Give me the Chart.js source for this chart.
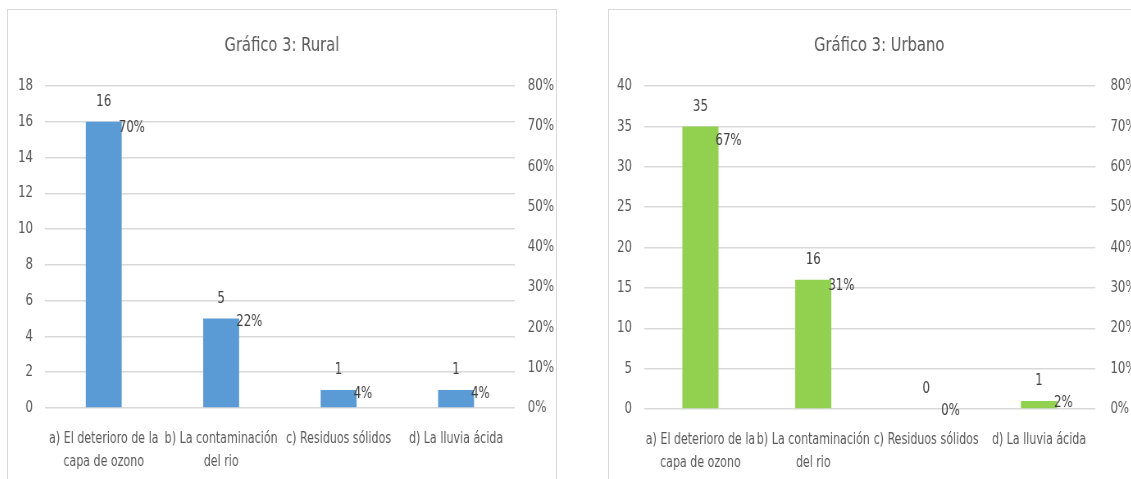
<!DOCTYPE html>
<html>
<head>
<meta charset="utf-8">
<script src="https://cdn.jsdelivr.net/npm/chart.js@4.4.1/dist/chart.umd.min.js"></script>
<style>
    html, body { margin: 0; padding: 0; background: #fff; overflow: hidden; width: 1131px; height: 479px; }
    .frame { position: absolute; top: 9px; border: 1px solid #d9d9d9; height: 480px; background: #fff; overflow: hidden; }
    #ruralFrame { left: 7px; width: 548px; }
    #urbanFrame { left: 608px; width: 560px; }
    canvas { position: absolute; left: 0; top: 0; transform-origin: 0 0; }
</style>
</head>
<body>
<div class="frame" id="ruralFrame"><canvas id="rural"></canvas></div>
<div class="frame" id="urbanFrame"><canvas id="urban"></canvas></div>
<script>
const categories = [
    ['a) El deterioro de la', 'capa de ozono'],
    ['b) La contaminación', 'del rio'],
    'c) Residuos sólidos',
    'd) La lluvia ácida'
]
const ruralCounts = [16, 5, 1, 1]
const ruralPercents = [70, 22, 4, 4]
const urbanCounts = [35, 16, 0, 1]
const urbanPercents = [67, 31, 0, 2]
const ruralCountTicks = { max: 18, step: 2 }
const urbanCountTicks = { max: 40, step: 5 }
const percentTicks = { max: 80, step: 10 }

const FONT = '"Liberation Sans Narrow", "DejaVu Sans Condensed", sans-serif'
const TEXT = '#595959'
const GRID = '#d9d9d9'
// the canvas is drawn wider and squeezed back with css, which gives the narrow lettering
const SQUEEZE = 0.82

// counts above each bar, percentages to the right of the hidden points
const valueLabels = {
    id: 'valueLabels',
    afterDatasetsDraw(chart) {
        const ctx = chart.ctx
        ctx.save()
        ctx.font = '16px ' + FONT
        ctx.fillStyle = '#404040'
        chart.data.datasets.forEach((ds, i) => {
            const meta = chart.getDatasetMeta(i)
            meta.data.forEach((el, j) => {
                ctx.textBaseline = 'middle'
                if (ds.type === 'line') {
                    ctx.textAlign = 'left'
                    ctx.fillText(ds.data[j] + '%', el.x + 15 / SQUEEZE, el.y + 2)
                } else {
                    ctx.textAlign = 'center'
                    ctx.fillText(String(ds.data[j]), el.x, el.y - 20)
                }
            })
        })
        ctx.restore()
    }
}

function makeChart(id, title, counts, percents, color, countTicks, box) {
    const canvas = document.getElementById(id)
    const w = Math.round(box.width / SQUEEZE)
    canvas.width = w
    canvas.height = box.height
    canvas.style.width = w + 'px'
    canvas.style.height = box.height + 'px'
    canvas.style.transform = 'scaleX(' + SQUEEZE + ')'
    return new Chart(canvas, {
        data: {
            labels: categories,
            datasets: [{
                type: 'line',
                data: percents,
                yAxisID: 'y1',
                showLine: false,
                pointRadius: 0,
                pointHoverRadius: 0
            }, {
                type: 'bar',
                data: counts,
                yAxisID: 'y',
                backgroundColor: color,
                categoryPercentage: 1,
                barPercentage: box.bar
            }]
        },
        options: {
            responsive: false,
            animation: false,
            events: [],
            layout: { padding: 0 },
            plugins: {
                legend: { display: false },
                tooltip: { enabled: false },
                title: {
                    display: true,
                    text: title,
                    color: TEXT,
                    font: { family: FONT, size: 20, weight: 'normal', lineHeight: 1.2 },
                    padding: { top: 24, bottom: 28 }
                }
            },
            scales: {
                x: {
                    grid: { display: false },
                    border: { display: false },
                    ticks: {
                        color: TEXT,
                        font: { family: FONT, size: 15, lineHeight: 1.55 },
                        padding: 11,
                        maxRotation: 0,
                        autoSkip: false
                    },
                    afterFit(s) { s.height = box.bottom }
                },
                y: {
                    position: 'left',
                    min: 0,
                    max: countTicks.max,
                    grid: { color: GRID, lineWidth: 1.5, drawTicks: false },
                    border: { display: false },
                    ticks: {
                        stepSize: countTicks.step,
                        color: TEXT,
                        font: { family: FONT, size: 16 },
                        padding: 12 / SQUEEZE
                    },
                    afterFit(s) { s.width = box.left / SQUEEZE }
                },
                y1: {
                    position: 'right',
                    min: 0,
                    max: percentTicks.max,
                    grid: { display: false, drawTicks: false },
                    border: { display: false },
                    ticks: {
                        stepSize: percentTicks.step,
                        color: TEXT,
                        font: { family: FONT, size: 16 },
                        padding: box.rightPad / SQUEEZE,
                        callback: v => v + '%'
                    },
                    afterFit(s) { s.width = box.right / SQUEEZE }
                }
            }
        },
        plugins: [valueLabels]
    })
}

makeChart('rural', 'Gráfico 3: Rural', ruralCounts, ruralPercents, '#5b9bd5', ruralCountTicks,
    { width: 548, height: 469, left: 37, right: 41, bottom: 71, bar: 0.306, rightPad: 13 })
makeChart('urban', 'Gráfico 3: Urbano', urbanCounts, urbanPercents, '#92d050', urbanCountTicks,
    { width: 540, height: 469, left: 35, right: 54, bottom: 70, bar: 0.32, rightPad: 15 })
</script>
</body>
</html>
